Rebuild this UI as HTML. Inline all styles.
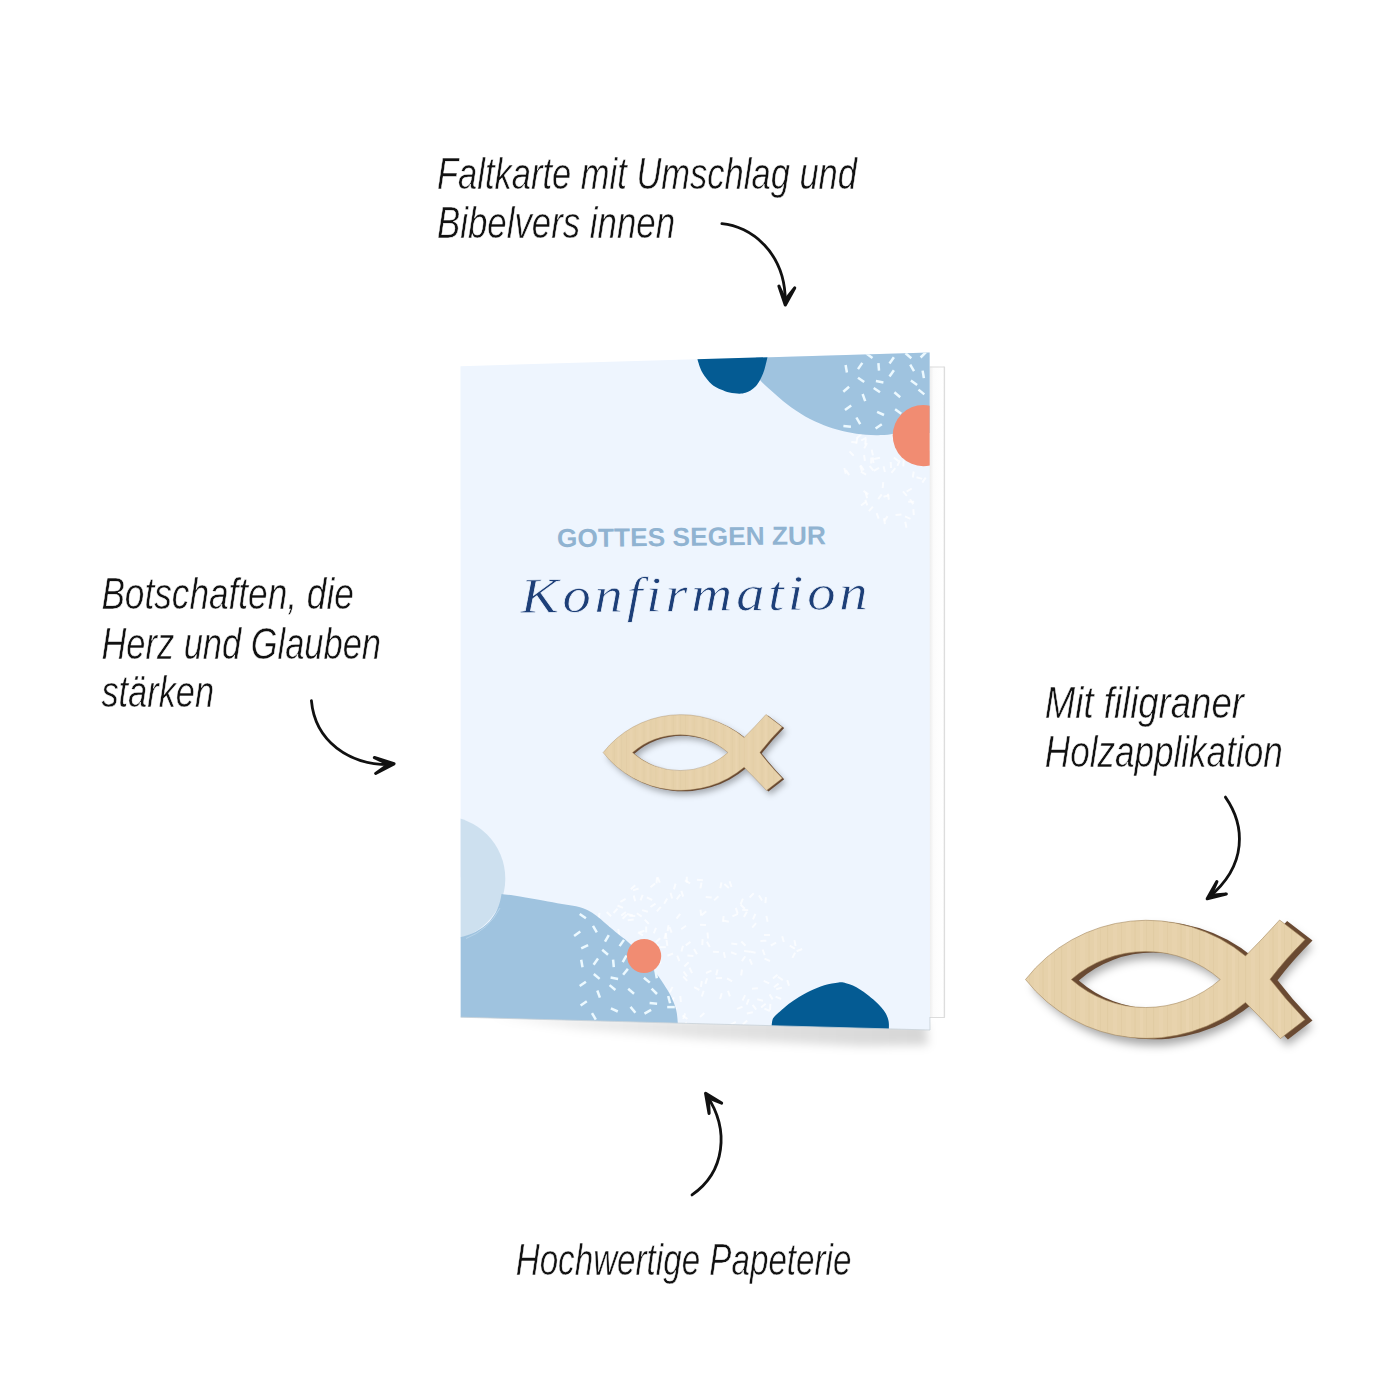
<!DOCTYPE html>
<html lang="de">
<head>
<meta charset="utf-8">
<title>Faltkarte Konfirmation</title>
<style>
html,body{margin:0;padding:0;background:#fff;}
body{width:1400px;height:1400px;overflow:hidden;font-family:"Liberation Sans","DejaVu Sans",sans-serif;}
svg{display:block;}
</style>
</head>
<body>
<svg width="1400" height="1400" viewBox="0 0 1400 1400">
<defs>
  <clipPath id="cardclip"><polygon points="460.5,366.2 929.6,352.5 930,1030 460.7,1017.2"/></clipPath>
  <filter id="blur8" x="-20%" y="-200%" width="140%" height="500%"><feGaussianBlur stdDeviation="5"/></filter>
  <filter id="fshadow" x="-20%" y="-30%" width="140%" height="160%"><feGaussianBlur stdDeviation="5"/></filter>
  <filter id="fshadow2" x="-20%" y="-30%" width="140%" height="160%"><feGaussianBlur stdDeviation="5"/></filter>
  <pattern id="wood" width="46" height="10" patternUnits="userSpaceOnUse">
    <rect width="46" height="10" fill="#e6d1aa"/>
    <rect x="3" width="1.2" height="10" fill="#dcc69c" fill-opacity="0.45"/>
    <rect x="9" width="4" height="10" fill="#ead6b1" fill-opacity="0.5"/>
    <rect x="17" width="1" height="10" fill="#dbc59b" fill-opacity="0.4"/>
    <rect x="22" width="5" height="10" fill="#e9d5af" fill-opacity="0.5"/>
    <rect x="30.5" width="1.2" height="10" fill="#dcc69c" fill-opacity="0.45"/>
    <rect x="36" width="3" height="10" fill="#ebd7b3" fill-opacity="0.5"/>
    <rect x="42" width="1" height="10" fill="#ddc79e" fill-opacity="0.4"/>
  </pattern>
  <linearGradient id="shg" gradientUnits="userSpaceOnUse" x1="480" y1="0" x2="930" y2="0">
    <stop offset="0" stop-color="#000" stop-opacity="0.05"/><stop offset="0.5" stop-color="#000" stop-opacity="0.11"/><stop offset="1" stop-color="#000" stop-opacity="0.16"/>
  </linearGradient>
  <linearGradient id="backg" x1="0" y1="0" x2="1" y2="0">
    <stop offset="0" stop-color="#ebebeb"/><stop offset="0.3" stop-color="#fcfcfc"/><stop offset="0.9" stop-color="#ffffff"/><stop offset="1" stop-color="#dcdcdc"/>
  </linearGradient>
</defs>
<rect width="1400" height="1400" fill="#ffffff"/>

<!-- card shadow -->
<polygon points="490,1016 926,1022 928,1045 860,1046 700,1039 580,1029" fill="url(#shg)" filter="url(#blur8)"/>
<!-- back page -->
<rect x="929" y="366.5" width="15.6" height="651.5" fill="url(#backg)"/>
<path d="M 929,367 H 944.6 V 1017.5 H 930" stroke="#dcdcdc" stroke-width="1" fill="none"/>

<!-- card front -->
<polygon points="460.5,366.2 929.6,352.5 930,1030 460.7,1017.2" fill="#eef5fe"/>
<g clip-path="url(#cardclip)">
  <g stroke-linecap="butt"><line x1="646.8" y1="897.3" x2="652.2" y2="900.0" stroke="#ffffff" stroke-width="2" stroke-opacity="0.7"/><line x1="588.9" y1="957.6" x2="594.4" y2="955.2" stroke="#ffffff" stroke-width="2" stroke-opacity="0.7"/><line x1="588.0" y1="955.1" x2="588.7" y2="949.1" stroke="#ffffff" stroke-width="2" stroke-opacity="0.7"/><line x1="673.9" y1="889.4" x2="675.6" y2="883.6" stroke="#ffffff" stroke-width="2" stroke-opacity="0.7"/><line x1="671.5" y1="1002.8" x2="673.8" y2="997.3" stroke="#ffffff" stroke-width="2" stroke-opacity="0.7"/><line x1="625.9" y1="967.2" x2="626.8" y2="973.1" stroke="#ffffff" stroke-width="2" stroke-opacity="0.7"/><line x1="707.5" y1="932.5" x2="708.0" y2="938.5" stroke="#ffffff" stroke-width="2" stroke-opacity="0.7"/><line x1="640.5" y1="900.4" x2="642.7" y2="894.8" stroke="#ffffff" stroke-width="2" stroke-opacity="0.7"/><line x1="644.3" y1="1000.9" x2="647.6" y2="995.9" stroke="#ffffff" stroke-width="2" stroke-opacity="0.7"/><line x1="706.0" y1="973.0" x2="711.5" y2="970.7" stroke="#ffffff" stroke-width="2" stroke-opacity="0.7"/><line x1="700.4" y1="888.4" x2="701.5" y2="882.5" stroke="#ffffff" stroke-width="2" stroke-opacity="0.7"/><line x1="619.4" y1="978.7" x2="625.3" y2="977.4" stroke="#ffffff" stroke-width="2" stroke-opacity="0.7"/><line x1="644.3" y1="964.3" x2="650.2" y2="963.4" stroke="#ffffff" stroke-width="2" stroke-opacity="0.7"/><line x1="641.5" y1="993.4" x2="646.4" y2="996.9" stroke="#ffffff" stroke-width="2" stroke-opacity="0.7"/><line x1="628.2" y1="961.9" x2="634.1" y2="962.4" stroke="#ffffff" stroke-width="2" stroke-opacity="0.7"/><line x1="773.9" y1="987.3" x2="778.6" y2="983.6" stroke="#ffffff" stroke-width="2" stroke-opacity="0.7"/><line x1="669.8" y1="992.2" x2="672.5" y2="986.9" stroke="#ffffff" stroke-width="2" stroke-opacity="0.7"/><line x1="684.9" y1="880.4" x2="690.1" y2="883.4" stroke="#ffffff" stroke-width="2" stroke-opacity="0.7"/><line x1="749.7" y1="959.2" x2="752.0" y2="964.7" stroke="#ffffff" stroke-width="2" stroke-opacity="0.7"/><line x1="644.3" y1="979.4" x2="650.0" y2="981.2" stroke="#ffffff" stroke-width="2" stroke-opacity="0.7"/><line x1="706.9" y1="941.8" x2="709.8" y2="947.1" stroke="#ffffff" stroke-width="2" stroke-opacity="0.7"/><line x1="789.7" y1="945.6" x2="794.9" y2="948.6" stroke="#ffffff" stroke-width="2" stroke-opacity="0.7"/><line x1="586.3" y1="979.9" x2="591.6" y2="982.6" stroke="#ffffff" stroke-width="2" stroke-opacity="0.7"/><line x1="637.9" y1="932.4" x2="643.0" y2="935.4" stroke="#ffffff" stroke-width="2" stroke-opacity="0.7"/><line x1="578.7" y1="947.8" x2="581.7" y2="942.7" stroke="#ffffff" stroke-width="2" stroke-opacity="0.7"/><line x1="749.6" y1="897.5" x2="753.8" y2="893.3" stroke="#ffffff" stroke-width="2" stroke-opacity="0.7"/><line x1="664.2" y1="1009.6" x2="665.7" y2="1003.8" stroke="#ffffff" stroke-width="2" stroke-opacity="0.7"/><line x1="677.2" y1="955.6" x2="679.4" y2="961.2" stroke="#ffffff" stroke-width="2" stroke-opacity="0.7"/><line x1="761.1" y1="1007.5" x2="765.7" y2="1003.7" stroke="#ffffff" stroke-width="2" stroke-opacity="0.7"/><line x1="669.5" y1="927.0" x2="671.6" y2="932.6" stroke="#ffffff" stroke-width="2" stroke-opacity="0.7"/><line x1="613.5" y1="913.0" x2="617.5" y2="908.6" stroke="#ffffff" stroke-width="2" stroke-opacity="0.7"/><line x1="684.3" y1="966.4" x2="688.7" y2="962.3" stroke="#ffffff" stroke-width="2" stroke-opacity="0.7"/><line x1="659.5" y1="958.0" x2="660.4" y2="963.9" stroke="#ffffff" stroke-width="2" stroke-opacity="0.7"/><line x1="731.0" y1="952.2" x2="736.6" y2="954.4" stroke="#ffffff" stroke-width="2" stroke-opacity="0.7"/><line x1="729.6" y1="881.2" x2="731.5" y2="887.0" stroke="#ffffff" stroke-width="2" stroke-opacity="0.7"/><line x1="752.6" y1="1004.8" x2="756.2" y2="1009.6" stroke="#ffffff" stroke-width="2" stroke-opacity="0.7"/><line x1="664.3" y1="938.7" x2="666.2" y2="933.0" stroke="#ffffff" stroke-width="2" stroke-opacity="0.7"/><line x1="720.3" y1="888.3" x2="721.5" y2="882.4" stroke="#ffffff" stroke-width="2" stroke-opacity="0.7"/><line x1="620.4" y1="901.8" x2="625.6" y2="898.9" stroke="#ffffff" stroke-width="2" stroke-opacity="0.7"/><line x1="657.5" y1="877.1" x2="659.8" y2="882.6" stroke="#ffffff" stroke-width="2" stroke-opacity="0.7"/><line x1="714.1" y1="900.4" x2="718.4" y2="896.2" stroke="#ffffff" stroke-width="2" stroke-opacity="0.7"/><line x1="653.8" y1="933.4" x2="656.0" y2="927.8" stroke="#ffffff" stroke-width="2" stroke-opacity="0.7"/><line x1="681.4" y1="951.5" x2="683.0" y2="945.7" stroke="#ffffff" stroke-width="2" stroke-opacity="0.7"/><line x1="596.3" y1="929.4" x2="600.7" y2="925.4" stroke="#ffffff" stroke-width="2" stroke-opacity="0.7"/><line x1="765.4" y1="903.2" x2="765.9" y2="897.2" stroke="#ffffff" stroke-width="2" stroke-opacity="0.7"/><line x1="792.4" y1="957.9" x2="795.1" y2="952.6" stroke="#ffffff" stroke-width="2" stroke-opacity="0.7"/><line x1="696.9" y1="879.8" x2="702.9" y2="880.3" stroke="#ffffff" stroke-width="2" stroke-opacity="0.7"/><line x1="732.4" y1="916.4" x2="737.9" y2="913.9" stroke="#ffffff" stroke-width="2" stroke-opacity="0.7"/><line x1="610.4" y1="991.5" x2="616.4" y2="992.1" stroke="#ffffff" stroke-width="2" stroke-opacity="0.7"/><line x1="752.2" y1="927.7" x2="756.1" y2="923.2" stroke="#ffffff" stroke-width="2" stroke-opacity="0.7"/><line x1="769.5" y1="994.4" x2="772.7" y2="999.4" stroke="#ffffff" stroke-width="2" stroke-opacity="0.7"/><line x1="742.2" y1="909.8" x2="748.2" y2="910.2" stroke="#ffffff" stroke-width="2" stroke-opacity="0.7"/><line x1="656.5" y1="883.3" x2="657.0" y2="877.4" stroke="#ffffff" stroke-width="2" stroke-opacity="0.7"/><line x1="636.8" y1="913.2" x2="641.7" y2="916.6" stroke="#ffffff" stroke-width="2" stroke-opacity="0.7"/><line x1="794.4" y1="940.1" x2="795.6" y2="946.0" stroke="#ffffff" stroke-width="2" stroke-opacity="0.7"/><line x1="656.9" y1="911.3" x2="660.8" y2="906.8" stroke="#ffffff" stroke-width="2" stroke-opacity="0.7"/><line x1="617.5" y1="905.5" x2="623.0" y2="907.8" stroke="#ffffff" stroke-width="2" stroke-opacity="0.7"/><line x1="683.5" y1="971.5" x2="687.0" y2="976.4" stroke="#ffffff" stroke-width="2" stroke-opacity="0.7"/><line x1="593.7" y1="972.2" x2="595.3" y2="978.0" stroke="#ffffff" stroke-width="2" stroke-opacity="0.7"/><line x1="751.9" y1="988.7" x2="757.9" y2="988.3" stroke="#ffffff" stroke-width="2" stroke-opacity="0.7"/><line x1="613.5" y1="995.9" x2="618.7" y2="992.9" stroke="#ffffff" stroke-width="2" stroke-opacity="0.7"/><line x1="665.5" y1="933.2" x2="666.5" y2="939.2" stroke="#ffffff" stroke-width="2" stroke-opacity="0.7"/><line x1="740.5" y1="904.3" x2="742.9" y2="898.7" stroke="#ffffff" stroke-width="2" stroke-opacity="0.7"/><line x1="758.9" y1="895.4" x2="762.1" y2="900.5" stroke="#ffffff" stroke-width="2" stroke-opacity="0.7"/><line x1="654.4" y1="961.0" x2="656.8" y2="955.5" stroke="#ffffff" stroke-width="2" stroke-opacity="0.7"/><line x1="723.8" y1="952.1" x2="725.0" y2="957.9" stroke="#ffffff" stroke-width="2" stroke-opacity="0.7"/><line x1="673.2" y1="1004.2" x2="676.3" y2="1009.3" stroke="#ffffff" stroke-width="2" stroke-opacity="0.7"/><line x1="621.2" y1="915.6" x2="625.9" y2="912.0" stroke="#ffffff" stroke-width="2" stroke-opacity="0.7"/><line x1="628.1" y1="966.0" x2="632.5" y2="961.9" stroke="#ffffff" stroke-width="2" stroke-opacity="0.7"/><line x1="670.5" y1="892.8" x2="672.2" y2="898.5" stroke="#ffffff" stroke-width="2" stroke-opacity="0.7"/><line x1="653.5" y1="943.9" x2="659.3" y2="945.5" stroke="#ffffff" stroke-width="2" stroke-opacity="0.7"/><line x1="782.2" y1="936.2" x2="783.8" y2="942.0" stroke="#ffffff" stroke-width="2" stroke-opacity="0.7"/><line x1="687.4" y1="955.6" x2="693.4" y2="956.0" stroke="#ffffff" stroke-width="2" stroke-opacity="0.7"/><line x1="577.7" y1="944.5" x2="580.9" y2="939.5" stroke="#ffffff" stroke-width="2" stroke-opacity="0.7"/><line x1="612.4" y1="945.1" x2="616.9" y2="949.0" stroke="#ffffff" stroke-width="2" stroke-opacity="0.7"/><line x1="700.0" y1="924.7" x2="706.0" y2="925.1" stroke="#ffffff" stroke-width="2" stroke-opacity="0.7"/><line x1="701.8" y1="996.5" x2="703.7" y2="990.8" stroke="#ffffff" stroke-width="2" stroke-opacity="0.7"/><line x1="701.6" y1="915.2" x2="706.2" y2="911.3" stroke="#ffffff" stroke-width="2" stroke-opacity="0.7"/><line x1="749.7" y1="951.6" x2="755.6" y2="952.7" stroke="#ffffff" stroke-width="2" stroke-opacity="0.7"/><line x1="746.8" y1="1013.4" x2="752.8" y2="1012.3" stroke="#ffffff" stroke-width="2" stroke-opacity="0.7"/><line x1="712.9" y1="951.7" x2="718.9" y2="951.9" stroke="#ffffff" stroke-width="2" stroke-opacity="0.7"/><line x1="731.3" y1="943.5" x2="737.3" y2="944.2" stroke="#ffffff" stroke-width="2" stroke-opacity="0.7"/><line x1="682.5" y1="1015.5" x2="687.4" y2="1019.0" stroke="#ffffff" stroke-width="2" stroke-opacity="0.7"/><line x1="634.2" y1="957.0" x2="635.2" y2="962.9" stroke="#ffffff" stroke-width="2" stroke-opacity="0.7"/><line x1="602.3" y1="945.2" x2="603.7" y2="939.4" stroke="#ffffff" stroke-width="2" stroke-opacity="0.7"/><line x1="728.0" y1="990.7" x2="729.9" y2="996.4" stroke="#ffffff" stroke-width="2" stroke-opacity="0.7"/><line x1="607.9" y1="982.0" x2="613.2" y2="984.9" stroke="#ffffff" stroke-width="2" stroke-opacity="0.7"/><line x1="607.6" y1="1005.4" x2="608.2" y2="1011.4" stroke="#ffffff" stroke-width="2" stroke-opacity="0.7"/><line x1="622.7" y1="1019.8" x2="628.4" y2="1017.9" stroke="#ffffff" stroke-width="2" stroke-opacity="0.7"/><line x1="685.6" y1="1021.9" x2="688.6" y2="1027.1" stroke="#ffffff" stroke-width="2" stroke-opacity="0.7"/><line x1="609.1" y1="940.6" x2="615.1" y2="940.9" stroke="#ffffff" stroke-width="2" stroke-opacity="0.7"/><line x1="650.5" y1="907.0" x2="655.5" y2="903.7" stroke="#ffffff" stroke-width="2" stroke-opacity="0.7"/><line x1="702.3" y1="945.1" x2="702.6" y2="939.1" stroke="#ffffff" stroke-width="2" stroke-opacity="0.7"/><line x1="648.2" y1="969.5" x2="654.2" y2="969.7" stroke="#ffffff" stroke-width="2" stroke-opacity="0.7"/><line x1="598.7" y1="918.8" x2="599.5" y2="912.9" stroke="#ffffff" stroke-width="2" stroke-opacity="0.7"/><line x1="753.0" y1="919.3" x2="755.4" y2="913.8" stroke="#ffffff" stroke-width="2" stroke-opacity="0.7"/><line x1="670.5" y1="1010.2" x2="673.7" y2="1015.2" stroke="#ffffff" stroke-width="2" stroke-opacity="0.7"/><line x1="633.7" y1="895.5" x2="635.2" y2="901.3" stroke="#ffffff" stroke-width="2" stroke-opacity="0.7"/><line x1="705.4" y1="983.9" x2="707.1" y2="978.2" stroke="#ffffff" stroke-width="2" stroke-opacity="0.7"/><line x1="585.3" y1="979.9" x2="591.1" y2="978.5" stroke="#ffffff" stroke-width="2" stroke-opacity="0.7"/><line x1="720.1" y1="999.1" x2="721.7" y2="993.3" stroke="#ffffff" stroke-width="2" stroke-opacity="0.7"/><line x1="770.8" y1="945.5" x2="776.1" y2="942.6" stroke="#ffffff" stroke-width="2" stroke-opacity="0.7"/><line x1="700.0" y1="1017.0" x2="704.4" y2="1013.0" stroke="#ffffff" stroke-width="2" stroke-opacity="0.7"/><line x1="602.7" y1="957.2" x2="606.8" y2="952.8" stroke="#ffffff" stroke-width="2" stroke-opacity="0.7"/><line x1="644.7" y1="919.6" x2="648.8" y2="923.9" stroke="#ffffff" stroke-width="2" stroke-opacity="0.7"/><line x1="640.1" y1="953.6" x2="643.3" y2="948.5" stroke="#ffffff" stroke-width="2" stroke-opacity="0.7"/><line x1="741.9" y1="961.1" x2="745.3" y2="956.2" stroke="#ffffff" stroke-width="2" stroke-opacity="0.7"/><line x1="683.2" y1="1019.0" x2="685.2" y2="1013.4" stroke="#ffffff" stroke-width="2" stroke-opacity="0.7"/><line x1="760.4" y1="940.9" x2="766.4" y2="940.8" stroke="#ffffff" stroke-width="2" stroke-opacity="0.7"/><line x1="764.0" y1="934.9" x2="770.0" y2="935.0" stroke="#ffffff" stroke-width="2" stroke-opacity="0.7"/><line x1="730.5" y1="1024.8" x2="735.8" y2="1021.9" stroke="#ffffff" stroke-width="2" stroke-opacity="0.7"/><line x1="763.7" y1="980.8" x2="769.2" y2="983.3" stroke="#ffffff" stroke-width="2" stroke-opacity="0.7"/><line x1="667.6" y1="931.1" x2="668.6" y2="925.2" stroke="#ffffff" stroke-width="2" stroke-opacity="0.7"/><line x1="743.9" y1="917.0" x2="746.9" y2="911.7" stroke="#ffffff" stroke-width="2" stroke-opacity="0.7"/><line x1="772.9" y1="978.5" x2="777.5" y2="974.7" stroke="#ffffff" stroke-width="2" stroke-opacity="0.7"/><line x1="627.7" y1="920.3" x2="633.7" y2="919.6" stroke="#ffffff" stroke-width="2" stroke-opacity="0.7"/><line x1="609.0" y1="944.9" x2="613.4" y2="940.8" stroke="#ffffff" stroke-width="2" stroke-opacity="0.7"/><line x1="700.5" y1="909.7" x2="701.1" y2="915.6" stroke="#ffffff" stroke-width="2" stroke-opacity="0.7"/><line x1="646.2" y1="932.5" x2="646.2" y2="926.5" stroke="#ffffff" stroke-width="2" stroke-opacity="0.7"/><line x1="659.8" y1="947.2" x2="665.8" y2="947.2" stroke="#ffffff" stroke-width="2" stroke-opacity="0.7"/><line x1="621.2" y1="954.7" x2="621.3" y2="948.7" stroke="#ffffff" stroke-width="2" stroke-opacity="0.7"/><line x1="632.9" y1="890.4" x2="638.6" y2="888.5" stroke="#ffffff" stroke-width="2" stroke-opacity="0.7"/><line x1="642.1" y1="910.1" x2="647.9" y2="911.7" stroke="#ffffff" stroke-width="2" stroke-opacity="0.7"/><line x1="694.1" y1="987.2" x2="699.4" y2="990.0" stroke="#ffffff" stroke-width="2" stroke-opacity="0.7"/><line x1="736.9" y1="1008.9" x2="742.5" y2="1006.8" stroke="#ffffff" stroke-width="2" stroke-opacity="0.7"/><line x1="648.7" y1="1026.4" x2="651.4" y2="1021.0" stroke="#ffffff" stroke-width="2" stroke-opacity="0.7"/><line x1="741.1" y1="975.5" x2="742.0" y2="969.5" stroke="#ffffff" stroke-width="2" stroke-opacity="0.7"/><line x1="764.4" y1="1008.6" x2="769.9" y2="1011.0" stroke="#ffffff" stroke-width="2" stroke-opacity="0.7"/><line x1="742.5" y1="1000.6" x2="745.1" y2="995.1" stroke="#ffffff" stroke-width="2" stroke-opacity="0.7"/><line x1="694.0" y1="949.1" x2="697.0" y2="954.3" stroke="#ffffff" stroke-width="2" stroke-opacity="0.7"/><line x1="757.2" y1="999.2" x2="763.0" y2="1000.7" stroke="#ffffff" stroke-width="2" stroke-opacity="0.7"/><line x1="777.9" y1="976.7" x2="782.8" y2="980.1" stroke="#ffffff" stroke-width="2" stroke-opacity="0.7"/><line x1="604.6" y1="932.9" x2="606.6" y2="927.3" stroke="#ffffff" stroke-width="2" stroke-opacity="0.7"/><line x1="764.5" y1="958.6" x2="770.0" y2="961.0" stroke="#ffffff" stroke-width="2" stroke-opacity="0.7"/><line x1="716.0" y1="978.2" x2="722.0" y2="978.0" stroke="#ffffff" stroke-width="2" stroke-opacity="0.7"/><line x1="744.1" y1="951.1" x2="750.1" y2="951.8" stroke="#ffffff" stroke-width="2" stroke-opacity="0.7"/><line x1="724.4" y1="883.9" x2="728.8" y2="887.9" stroke="#ffffff" stroke-width="2" stroke-opacity="0.7"/><line x1="630.8" y1="889.2" x2="635.2" y2="885.2" stroke="#ffffff" stroke-width="2" stroke-opacity="0.7"/><line x1="740.6" y1="904.7" x2="744.9" y2="908.8" stroke="#ffffff" stroke-width="2" stroke-opacity="0.7"/><line x1="796.6" y1="951.2" x2="802.2" y2="949.0" stroke="#ffffff" stroke-width="2" stroke-opacity="0.7"/><line x1="683.2" y1="976.3" x2="687.2" y2="980.8" stroke="#ffffff" stroke-width="2" stroke-opacity="0.7"/><line x1="716.2" y1="975.3" x2="717.6" y2="969.5" stroke="#ffffff" stroke-width="2" stroke-opacity="0.7"/><line x1="606.7" y1="912.0" x2="611.1" y2="916.2" stroke="#ffffff" stroke-width="2" stroke-opacity="0.7"/><line x1="644.9" y1="964.2" x2="645.1" y2="958.2" stroke="#ffffff" stroke-width="2" stroke-opacity="0.7"/><line x1="727.0" y1="978.3" x2="732.1" y2="981.4" stroke="#ffffff" stroke-width="2" stroke-opacity="0.7"/><line x1="638.9" y1="953.8" x2="644.9" y2="953.1" stroke="#ffffff" stroke-width="2" stroke-opacity="0.7"/><line x1="681.3" y1="890.9" x2="683.2" y2="896.6" stroke="#ffffff" stroke-width="2" stroke-opacity="0.7"/><line x1="680.3" y1="996.0" x2="680.9" y2="1002.0" stroke="#ffffff" stroke-width="2" stroke-opacity="0.7"/><line x1="676.5" y1="918.7" x2="680.2" y2="913.9" stroke="#ffffff" stroke-width="2" stroke-opacity="0.7"/><line x1="705.7" y1="897.0" x2="711.7" y2="897.5" stroke="#ffffff" stroke-width="2" stroke-opacity="0.7"/><line x1="762.6" y1="949.5" x2="764.7" y2="955.1" stroke="#ffffff" stroke-width="2" stroke-opacity="0.7"/><line x1="735.8" y1="907.9" x2="737.7" y2="913.6" stroke="#ffffff" stroke-width="2" stroke-opacity="0.7"/><line x1="686.8" y1="882.7" x2="686.8" y2="876.7" stroke="#ffffff" stroke-width="2" stroke-opacity="0.7"/><line x1="685.7" y1="945.4" x2="690.5" y2="941.9" stroke="#ffffff" stroke-width="2" stroke-opacity="0.7"/><line x1="604.8" y1="929.2" x2="609.9" y2="926.0" stroke="#ffffff" stroke-width="2" stroke-opacity="0.7"/><line x1="746.6" y1="1004.7" x2="748.8" y2="999.1" stroke="#ffffff" stroke-width="2" stroke-opacity="0.7"/><line x1="787.2" y1="980.1" x2="789.0" y2="985.8" stroke="#ffffff" stroke-width="2" stroke-opacity="0.7"/><line x1="638.8" y1="932.8" x2="644.5" y2="930.8" stroke="#ffffff" stroke-width="2" stroke-opacity="0.7"/><line x1="655.7" y1="942.2" x2="660.2" y2="938.3" stroke="#ffffff" stroke-width="2" stroke-opacity="0.7"/><line x1="766.4" y1="915.9" x2="767.6" y2="921.8" stroke="#ffffff" stroke-width="2" stroke-opacity="0.7"/><line x1="629.3" y1="915.8" x2="635.3" y2="916.0" stroke="#ffffff" stroke-width="2" stroke-opacity="0.7"/><line x1="618.3" y1="929.0" x2="619.1" y2="935.0" stroke="#ffffff" stroke-width="2" stroke-opacity="0.7"/><line x1="775.6" y1="996.6" x2="781.1" y2="999.0" stroke="#ffffff" stroke-width="2" stroke-opacity="0.7"/><line x1="700.9" y1="986.9" x2="701.8" y2="981.0" stroke="#ffffff" stroke-width="2" stroke-opacity="0.7"/><line x1="741.3" y1="941.5" x2="745.5" y2="945.8" stroke="#ffffff" stroke-width="2" stroke-opacity="0.7"/><line x1="722.8" y1="921.9" x2="723.7" y2="916.0" stroke="#ffffff" stroke-width="2" stroke-opacity="0.7"/><line x1="681.2" y1="929.3" x2="686.0" y2="925.8" stroke="#ffffff" stroke-width="2" stroke-opacity="0.7"/><line x1="742.8" y1="1024.5" x2="747.2" y2="1020.4" stroke="#ffffff" stroke-width="2" stroke-opacity="0.7"/><line x1="722.9" y1="920.6" x2="728.8" y2="921.7" stroke="#ffffff" stroke-width="2" stroke-opacity="0.7"/><line x1="664.2" y1="903.7" x2="667.2" y2="898.5" stroke="#ffffff" stroke-width="2" stroke-opacity="0.7"/><line x1="619.8" y1="1011.9" x2="625.8" y2="1011.9" stroke="#ffffff" stroke-width="2" stroke-opacity="0.7"/><line x1="625.6" y1="1008.9" x2="625.6" y2="1014.9" stroke="#ffffff" stroke-width="2" stroke-opacity="0.7"/><line x1="676.8" y1="899.4" x2="680.2" y2="894.5" stroke="#ffffff" stroke-width="2" stroke-opacity="0.7"/><line x1="595.0" y1="930.2" x2="596.7" y2="924.4" stroke="#ffffff" stroke-width="2" stroke-opacity="0.7"/><line x1="627.1" y1="914.1" x2="632.9" y2="915.4" stroke="#ffffff" stroke-width="2" stroke-opacity="0.7"/><line x1="776.2" y1="989.3" x2="782.0" y2="987.6" stroke="#ffffff" stroke-width="2" stroke-opacity="0.7"/><line x1="667.4" y1="955.8" x2="673.0" y2="953.5" stroke="#ffffff" stroke-width="2" stroke-opacity="0.7"/><line x1="650.5" y1="887.2" x2="655.1" y2="883.4" stroke="#ffffff" stroke-width="2" stroke-opacity="0.7"/><line x1="689.5" y1="967.7" x2="692.0" y2="973.2" stroke="#ffffff" stroke-width="2" stroke-opacity="0.7"/><line x1="622.6" y1="918.8" x2="626.8" y2="914.5" stroke="#ffffff" stroke-width="2" stroke-opacity="0.7"/><line x1="666.5" y1="939.9" x2="667.4" y2="945.8" stroke="#ffffff" stroke-width="2" stroke-opacity="0.7"/><line x1="770.0" y1="1009.9" x2="770.4" y2="1003.9" stroke="#ffffff" stroke-width="2" stroke-opacity="0.7"/><line x1="916.5" y1="477.3" x2="922.2" y2="478.9" stroke="#ffffff" stroke-width="2" stroke-opacity="0.7"/><line x1="844.3" y1="467.9" x2="845.7" y2="473.8" stroke="#ffffff" stroke-width="2" stroke-opacity="0.7"/><line x1="913.3" y1="509.1" x2="913.8" y2="515.1" stroke="#ffffff" stroke-width="2" stroke-opacity="0.7"/><line x1="864.2" y1="448.4" x2="867.0" y2="443.1" stroke="#ffffff" stroke-width="2" stroke-opacity="0.7"/><line x1="887.8" y1="493.8" x2="888.9" y2="499.7" stroke="#ffffff" stroke-width="2" stroke-opacity="0.7"/><line x1="902.9" y1="491.4" x2="906.9" y2="495.8" stroke="#ffffff" stroke-width="2" stroke-opacity="0.7"/><line x1="882.6" y1="488.1" x2="883.3" y2="482.1" stroke="#ffffff" stroke-width="2" stroke-opacity="0.7"/><line x1="909.2" y1="453.8" x2="910.7" y2="459.6" stroke="#ffffff" stroke-width="2" stroke-opacity="0.7"/><line x1="897.4" y1="465.8" x2="899.8" y2="460.3" stroke="#ffffff" stroke-width="2" stroke-opacity="0.7"/><line x1="863.5" y1="490.9" x2="868.3" y2="494.4" stroke="#ffffff" stroke-width="2" stroke-opacity="0.7"/><line x1="851.3" y1="442.0" x2="857.3" y2="442.5" stroke="#ffffff" stroke-width="2" stroke-opacity="0.7"/><line x1="891.4" y1="472.8" x2="895.3" y2="468.2" stroke="#ffffff" stroke-width="2" stroke-opacity="0.7"/><line x1="892.5" y1="438.7" x2="897.3" y2="435.2" stroke="#ffffff" stroke-width="2" stroke-opacity="0.7"/><line x1="895.5" y1="514.9" x2="901.5" y2="514.4" stroke="#ffffff" stroke-width="2" stroke-opacity="0.7"/><line x1="864.1" y1="455.0" x2="864.9" y2="461.0" stroke="#ffffff" stroke-width="2" stroke-opacity="0.7"/><line x1="903.3" y1="466.4" x2="903.7" y2="460.4" stroke="#ffffff" stroke-width="2" stroke-opacity="0.7"/><line x1="883.5" y1="496.8" x2="889.3" y2="495.3" stroke="#ffffff" stroke-width="2" stroke-opacity="0.7"/><line x1="865.7" y1="492.5" x2="867.1" y2="498.3" stroke="#ffffff" stroke-width="2" stroke-opacity="0.7"/><line x1="861.2" y1="440.5" x2="866.4" y2="437.6" stroke="#ffffff" stroke-width="2" stroke-opacity="0.7"/><line x1="878.2" y1="499.2" x2="881.7" y2="494.3" stroke="#ffffff" stroke-width="2" stroke-opacity="0.7"/><line x1="908.2" y1="501.7" x2="914.2" y2="501.8" stroke="#ffffff" stroke-width="2" stroke-opacity="0.7"/><line x1="868.9" y1="511.2" x2="872.9" y2="506.7" stroke="#ffffff" stroke-width="2" stroke-opacity="0.7"/><line x1="861.0" y1="505.5" x2="865.8" y2="501.9" stroke="#ffffff" stroke-width="2" stroke-opacity="0.7"/><line x1="922.3" y1="482.6" x2="925.7" y2="477.6" stroke="#ffffff" stroke-width="2" stroke-opacity="0.7"/><line x1="860.9" y1="471.6" x2="866.1" y2="474.6" stroke="#ffffff" stroke-width="2" stroke-opacity="0.7"/><line x1="920.9" y1="450.0" x2="926.6" y2="448.0" stroke="#ffffff" stroke-width="2" stroke-opacity="0.7"/><line x1="856.2" y1="443.6" x2="857.3" y2="437.7" stroke="#ffffff" stroke-width="2" stroke-opacity="0.7"/><line x1="876.6" y1="513.1" x2="878.7" y2="518.7" stroke="#ffffff" stroke-width="2" stroke-opacity="0.7"/><line x1="905.2" y1="521.8" x2="906.5" y2="527.7" stroke="#ffffff" stroke-width="2" stroke-opacity="0.7"/><line x1="871.7" y1="449.6" x2="872.9" y2="455.4" stroke="#ffffff" stroke-width="2" stroke-opacity="0.7"/><line x1="904.3" y1="437.4" x2="909.6" y2="440.3" stroke="#ffffff" stroke-width="2" stroke-opacity="0.7"/><line x1="873.8" y1="470.8" x2="879.0" y2="467.8" stroke="#ffffff" stroke-width="2" stroke-opacity="0.7"/><line x1="856.7" y1="438.2" x2="861.4" y2="434.3" stroke="#ffffff" stroke-width="2" stroke-opacity="0.7"/><line x1="860.6" y1="465.2" x2="863.8" y2="470.3" stroke="#ffffff" stroke-width="2" stroke-opacity="0.7"/><line x1="912.8" y1="477.5" x2="913.7" y2="471.5" stroke="#ffffff" stroke-width="2" stroke-opacity="0.7"/><line x1="883.5" y1="466.3" x2="885.0" y2="472.1" stroke="#ffffff" stroke-width="2" stroke-opacity="0.7"/><line x1="860.1" y1="465.6" x2="862.0" y2="471.3" stroke="#ffffff" stroke-width="2" stroke-opacity="0.7"/><line x1="845.8" y1="470.1" x2="849.2" y2="475.1" stroke="#ffffff" stroke-width="2" stroke-opacity="0.7"/><line x1="908.3" y1="442.6" x2="909.0" y2="436.6" stroke="#ffffff" stroke-width="2" stroke-opacity="0.7"/><line x1="865.4" y1="499.7" x2="867.3" y2="505.4" stroke="#ffffff" stroke-width="2" stroke-opacity="0.7"/><line x1="872.7" y1="457.3" x2="873.5" y2="463.2" stroke="#ffffff" stroke-width="2" stroke-opacity="0.7"/><line x1="893.9" y1="457.4" x2="898.5" y2="461.2" stroke="#ffffff" stroke-width="2" stroke-opacity="0.7"/><line x1="871.2" y1="463.5" x2="871.3" y2="457.5" stroke="#ffffff" stroke-width="2" stroke-opacity="0.7"/><line x1="905.0" y1="516.3" x2="910.5" y2="518.8" stroke="#ffffff" stroke-width="2" stroke-opacity="0.7"/><line x1="921.3" y1="440.4" x2="925.3" y2="435.9" stroke="#ffffff" stroke-width="2" stroke-opacity="0.7"/><line x1="884.0" y1="518.2" x2="884.9" y2="524.1" stroke="#ffffff" stroke-width="2" stroke-opacity="0.7"/><line x1="874.2" y1="459.0" x2="880.0" y2="457.7" stroke="#ffffff" stroke-width="2" stroke-opacity="0.7"/><line x1="884.3" y1="521.1" x2="887.6" y2="516.1" stroke="#ffffff" stroke-width="2" stroke-opacity="0.7"/><line x1="910.0" y1="499.2" x2="913.2" y2="504.3" stroke="#ffffff" stroke-width="2" stroke-opacity="0.7"/><line x1="906.6" y1="491.6" x2="911.7" y2="488.5" stroke="#ffffff" stroke-width="2" stroke-opacity="0.7"/><line x1="869.6" y1="465.9" x2="873.4" y2="470.5" stroke="#ffffff" stroke-width="2" stroke-opacity="0.7"/><line x1="849.5" y1="451.4" x2="853.7" y2="455.7" stroke="#ffffff" stroke-width="2" stroke-opacity="0.7"/><line x1="865.2" y1="444.7" x2="865.8" y2="438.8" stroke="#ffffff" stroke-width="2" stroke-opacity="0.7"/><line x1="890.7" y1="462.0" x2="891.1" y2="468.0" stroke="#ffffff" stroke-width="2" stroke-opacity="0.7"/></g>
  <!-- top-right mid blue blob -->
  <path d="M 755,345 L 757.0,372.0 C 757.5,373.3 757.0,376.3 760.0,380.0 C 763.0,383.7 769.8,389.4 775.0,394.0 C 780.2,398.6 785.6,403.3 791.4,407.5 C 797.2,411.7 803.8,415.8 810.0,419.0 C 816.2,422.2 822.4,424.8 828.6,427.0 C 834.8,429.2 840.9,430.7 847.1,432.0 C 853.3,433.3 859.5,434.3 865.7,434.8 C 871.9,435.3 879.4,435.2 884.3,435.0 C 889.2,434.8 893.2,433.8 895.0,433.5 L 935,433 L 935,345 Z" fill="#9fc3df"/>
  <!-- top dark blue blob -->
  <path d="M 696.5,350 L 697.6,360.0 C 698.2,361.8 699.8,367.6 701.5,371.0 C 703.2,374.4 705.9,377.8 707.9,380.3 C 709.9,382.8 711.3,384.2 713.5,385.8 C 715.7,387.4 718.2,388.5 720.9,389.6 C 723.6,390.7 726.4,391.9 729.5,392.6 C 732.6,393.3 736.7,393.7 739.4,393.7 C 742.1,393.7 743.6,393.3 745.5,392.8 C 747.4,392.3 748.9,391.6 750.6,390.5 C 752.3,389.4 754.2,387.9 755.8,386.2 C 757.3,384.5 758.5,383.0 759.9,380.3 C 761.3,377.6 763.1,373.7 764.3,370.0 C 765.5,366.3 766.8,360.0 767.3,358.0 L 768.5,350 Z" fill="#045b93"/>
  <!-- bottom-left light circle -->
  <circle cx="443" cy="878.5" r="62.3" fill="#cde0ef"/>
  <!-- bottom-left mid blue blob -->
  <path d="M 455,938 C 468,936.5 480,931 489.5,921.5 C 496,914 500,905 501.5,894 L 501.5,894.0 C 504.6,894.4 513.1,895.4 520.0,896.5 C 526.9,897.6 535.9,899.2 542.9,900.5 C 549.9,901.8 555.8,902.9 562.0,904.0 C 568.2,905.1 575.3,906.0 580.0,907.2 C 584.7,908.5 586.9,909.8 590.0,911.5 C 593.1,913.2 595.6,915.2 598.6,917.5 C 601.6,919.8 604.9,922.9 608.0,925.5 C 611.1,928.1 613.8,930.5 617.1,933.3 C 620.4,936.0 623.9,938.2 628.0,942.0 C 632.1,945.8 637.6,951.2 642.0,956.0 C 646.4,960.8 651.1,966.8 654.3,970.8 C 657.5,974.8 658.8,976.8 661.0,980.0 C 663.2,983.2 665.5,986.9 667.3,989.8 C 669.0,992.7 670.3,995.0 671.5,997.5 C 672.7,1000.0 673.8,1002.4 674.7,1005.0 C 675.6,1007.6 676.2,1009.7 676.8,1013.0 C 677.3,1016.3 677.8,1023.0 678.0,1025.0 L 455,1025 Z" fill="#9fc3df"/>
  <path d="M 466,938.5 A 64 64 0 0 0 500,908" fill="none" stroke="#b7d4ea" stroke-width="1"/>
  <!-- bottom-right dark blue blob -->
  <path d="M 771.5,1028 L 771.8,1024.0 C 771.9,1023.2 772.1,1020.8 772.6,1019.5 C 773.1,1018.2 773.8,1017.3 775.0,1016.0 C 776.2,1014.7 777.7,1013.5 780.0,1011.5 C 782.3,1009.5 785.4,1006.4 788.6,1004.0 C 791.8,1001.6 795.4,999.2 799.0,997.0 C 802.6,994.8 805.8,993.0 810.0,991.0 C 814.2,989.0 819.5,986.7 824.3,985.3 C 829.1,983.9 835.0,982.9 838.6,982.5 C 842.2,982.1 843.6,982.7 846.0,983.2 C 848.4,983.7 850.6,984.6 852.9,985.6 C 855.2,986.6 857.6,988.0 860.0,989.5 C 862.4,991.0 864.6,992.6 867.1,994.5 C 869.6,996.4 872.6,998.8 875.0,1001.0 C 877.4,1003.2 879.6,1005.4 881.4,1007.5 C 883.2,1009.6 884.7,1011.5 885.8,1013.5 C 886.9,1015.5 887.7,1017.8 888.2,1019.5 C 888.7,1021.2 888.8,1022.1 888.9,1024.0 C 889.0,1025.9 888.8,1029.8 888.8,1031.0 Z" fill="#045b93"/>
  <!-- sprinkles -->
  <g stroke-linecap="butt">
  <line x1="845.6" y1="365.0" x2="846.9" y2="372.5" stroke="#ecf9ff" stroke-width="2.5" stroke-opacity="1"/><line x1="858.0" y1="369.1" x2="862.3" y2="362.9" stroke="#ecf9ff" stroke-width="2.5" stroke-opacity="1"/><line x1="878.4" y1="363.1" x2="879.0" y2="370.7" stroke="#ecf9ff" stroke-width="2.5" stroke-opacity="1"/><line x1="889.5" y1="363.5" x2="893.9" y2="357.3" stroke="#ecf9ff" stroke-width="2.5" stroke-opacity="1"/><line x1="910.2" y1="364.6" x2="914.0" y2="371.1" stroke="#ecf9ff" stroke-width="2.5" stroke-opacity="1"/><line x1="922.6" y1="370.6" x2="923.9" y2="378.1" stroke="#ecf9ff" stroke-width="2.5" stroke-opacity="1"/><line x1="858.0" y1="377.7" x2="864.2" y2="382.1" stroke="#ecf9ff" stroke-width="2.5" stroke-opacity="1"/><line x1="875.9" y1="381.1" x2="883.4" y2="382.4" stroke="#ecf9ff" stroke-width="2.5" stroke-opacity="1"/><line x1="889.5" y1="376.5" x2="893.9" y2="370.3" stroke="#ecf9ff" stroke-width="2.5" stroke-opacity="1"/><line x1="910.9" y1="380.5" x2="917.1" y2="384.9" stroke="#ecf9ff" stroke-width="2.5" stroke-opacity="1"/><line x1="843.3" y1="391.7" x2="849.1" y2="386.8" stroke="#ecf9ff" stroke-width="2.5" stroke-opacity="1"/><line x1="873.7" y1="388.0" x2="880.0" y2="392.3" stroke="#ecf9ff" stroke-width="2.5" stroke-opacity="1"/><line x1="894.4" y1="392.3" x2="900.2" y2="397.2" stroke="#ecf9ff" stroke-width="2.5" stroke-opacity="1"/><line x1="918.5" y1="389.6" x2="924.3" y2="394.4" stroke="#ecf9ff" stroke-width="2.5" stroke-opacity="1"/><line x1="862.6" y1="394.0" x2="865.2" y2="401.1" stroke="#ecf9ff" stroke-width="2.5" stroke-opacity="1"/><line x1="845.0" y1="410.0" x2="851.2" y2="405.6" stroke="#ecf9ff" stroke-width="2.5" stroke-opacity="1"/><line x1="877.1" y1="411.8" x2="884.0" y2="415.0" stroke="#ecf9ff" stroke-width="2.5" stroke-opacity="1"/><line x1="895.1" y1="409.3" x2="901.3" y2="413.7" stroke="#ecf9ff" stroke-width="2.5" stroke-opacity="1"/><line x1="856.4" y1="417.5" x2="860.2" y2="424.1" stroke="#ecf9ff" stroke-width="2.5" stroke-opacity="1"/><line x1="875.6" y1="428.5" x2="881.8" y2="424.2" stroke="#ecf9ff" stroke-width="2.5" stroke-opacity="1"/><line x1="843.4" y1="426.0" x2="850.9" y2="426.7" stroke="#ecf9ff" stroke-width="2.5" stroke-opacity="1"/><line x1="866.3" y1="353.6" x2="872.5" y2="358.0" stroke="#ecf9ff" stroke-width="2.5" stroke-opacity="1"/><line x1="905.5" y1="353.3" x2="911.3" y2="358.2" stroke="#ecf9ff" stroke-width="2.5" stroke-opacity="1"/><line x1="920.6" y1="357.5" x2="926.0" y2="352.2" stroke="#ecf9ff" stroke-width="2.5" stroke-opacity="1"/><line x1="579.7" y1="913.9" x2="585.9" y2="918.3" stroke="#ecf9ff" stroke-width="2.5" stroke-opacity="1"/><line x1="593.0" y1="925.8" x2="596.8" y2="932.4" stroke="#ecf9ff" stroke-width="2.5" stroke-opacity="1"/><line x1="574.1" y1="935.9" x2="580.3" y2="931.5" stroke="#ecf9ff" stroke-width="2.5" stroke-opacity="1"/><line x1="605.0" y1="941.6" x2="608.8" y2="935.1" stroke="#ecf9ff" stroke-width="2.5" stroke-opacity="1"/><line x1="619.6" y1="946.1" x2="624.0" y2="939.9" stroke="#ecf9ff" stroke-width="2.5" stroke-opacity="1"/><line x1="581.2" y1="948.3" x2="588.1" y2="945.1" stroke="#ecf9ff" stroke-width="2.5" stroke-opacity="1"/><line x1="602.2" y1="949.8" x2="608.0" y2="954.7" stroke="#ecf9ff" stroke-width="2.5" stroke-opacity="1"/><line x1="581.2" y1="959.7" x2="582.5" y2="967.2" stroke="#ecf9ff" stroke-width="2.5" stroke-opacity="1"/><line x1="593.6" y1="964.7" x2="598.0" y2="958.5" stroke="#ecf9ff" stroke-width="2.5" stroke-opacity="1"/><line x1="613.1" y1="959.6" x2="613.8" y2="967.2" stroke="#ecf9ff" stroke-width="2.5" stroke-opacity="1"/><line x1="622.7" y1="962.1" x2="626.5" y2="955.5" stroke="#ecf9ff" stroke-width="2.5" stroke-opacity="1"/><line x1="593.8" y1="974.0" x2="599.6" y2="978.9" stroke="#ecf9ff" stroke-width="2.5" stroke-opacity="1"/><line x1="610.6" y1="977.6" x2="618.1" y2="978.9" stroke="#ecf9ff" stroke-width="2.5" stroke-opacity="1"/><line x1="623.1" y1="974.7" x2="627.9" y2="968.9" stroke="#ecf9ff" stroke-width="2.5" stroke-opacity="1"/><line x1="579.7" y1="986.0" x2="585.9" y2="981.7" stroke="#ecf9ff" stroke-width="2.5" stroke-opacity="1"/><line x1="609.6" y1="985.1" x2="615.4" y2="990.0" stroke="#ecf9ff" stroke-width="2.5" stroke-opacity="1"/><line x1="628.2" y1="988.8" x2="634.0" y2="993.7" stroke="#ecf9ff" stroke-width="2.5" stroke-opacity="1"/><line x1="597.3" y1="990.5" x2="599.9" y2="997.6" stroke="#ecf9ff" stroke-width="2.5" stroke-opacity="1"/><line x1="643.9" y1="977.7" x2="649.8" y2="982.6" stroke="#ecf9ff" stroke-width="2.5" stroke-opacity="1"/><line x1="651.6" y1="988.6" x2="657.0" y2="994.0" stroke="#ecf9ff" stroke-width="2.5" stroke-opacity="1"/><line x1="655.5" y1="970.8" x2="656.8" y2="978.3" stroke="#ecf9ff" stroke-width="2.5" stroke-opacity="1"/><line x1="580.6" y1="1005.5" x2="586.8" y2="1001.2" stroke="#ecf9ff" stroke-width="2.5" stroke-opacity="1"/><line x1="610.9" y1="1008.3" x2="617.8" y2="1011.5" stroke="#ecf9ff" stroke-width="2.5" stroke-opacity="1"/><line x1="630.5" y1="1006.9" x2="635.4" y2="1012.8" stroke="#ecf9ff" stroke-width="2.5" stroke-opacity="1"/><line x1="644.5" y1="1013.6" x2="651.1" y2="1009.8" stroke="#ecf9ff" stroke-width="2.5" stroke-opacity="1"/><line x1="649.6" y1="1003.0" x2="657.1" y2="1003.7" stroke="#ecf9ff" stroke-width="2.5" stroke-opacity="1"/><line x1="668.2" y1="996.0" x2="670.1" y2="1003.3" stroke="#ecf9ff" stroke-width="2.5" stroke-opacity="1"/><line x1="667.2" y1="1007.1" x2="674.8" y2="1007.1" stroke="#ecf9ff" stroke-width="2.5" stroke-opacity="1"/><line x1="592.0" y1="1013.1" x2="595.8" y2="1019.6" stroke="#ecf9ff" stroke-width="2.5" stroke-opacity="1"/>
  </g>
  <!-- coral circles -->
  <circle cx="923.3" cy="435.6" r="30.6" fill="#f18c72"/>
  <circle cx="644.1" cy="956" r="17.1" fill="#f18c72"/>
  <!-- card text -->
  <g transform="rotate(-0.6 691 536)">
    <text x="557" y="545.7" textLength="269" lengthAdjust="spacingAndGlyphs" font-family="'Liberation Sans', 'DejaVu Sans', sans-serif" font-weight="bold" font-size="26" fill="#90b3d1">GOTTES SEGEN ZUR</text>
    <g transform="translate(520 611) scale(1.14 1)"><text x="0" y="0" textLength="304.4" lengthAdjust="spacing" font-family="'Liberation Serif', 'DejaVu Serif', serif" font-style="italic" font-size="50" stroke="#eef5fe" stroke-width="0.7" fill="#1d3f78">Konfirmation</text></g>
  </g>
  <!-- small fish -->
  <g transform="translate(603.1,752.6) scale(0.641) translate(-1025.5,-979.5)">
  <path d="M 1025.5,979.5 A 154 154 0 0 1 1245.5,956 Q 1263,938.5 1279.6,920 L 1305,939.6 Q 1286,958.5 1270,979.2 Q 1286,1000 1305,1019.6 L 1280.4,1038.6 Q 1263,1020 1245.5,1002.4 A 154 154 0 0 1 1025.5,979.5 Z M 1071.3,979.5 A 113 113 0 0 0 1220.3,979.5 A 113 113 0 0 0 1071.3,979.5 Z" fill="#000" fill-opacity="0.3" fill-rule="evenodd" transform="translate(6,7)" filter="url(#fshadow)"/>
  <path d="M 1025.5,979.5 A 154 154 0 0 1 1245.5,956 Q 1263,938.5 1279.6,920 L 1305,939.6 Q 1286,958.5 1270,979.2 Q 1286,1000 1305,1019.6 L 1280.4,1038.6 Q 1263,1020 1245.5,1002.4 A 154 154 0 0 1 1025.5,979.5 Z M 1071.3,979.5 A 113 113 0 0 0 1220.3,979.5 A 113 113 0 0 0 1071.3,979.5 Z" fill="#6a4a32" fill-rule="evenodd" transform="translate(3,1.6)"/>
  <path d="M 1025.5,979.5 A 154 154 0 0 1 1245.5,956 Q 1263,938.5 1279.6,920 L 1305,939.6 Q 1286,958.5 1270,979.2 Q 1286,1000 1305,1019.6 L 1280.4,1038.6 Q 1263,1020 1245.5,1002.4 A 154 154 0 0 1 1025.5,979.5 Z M 1071.3,979.5 A 113 113 0 0 0 1220.3,979.5 A 113 113 0 0 0 1071.3,979.5 Z" fill="url(#wood)" fill-rule="evenodd" stroke="#a5875d" stroke-width="0.9" stroke-opacity="0.65" stroke-linejoin="miter"/>
</g>
</g>

<path d="M 460.7,1017.2 L 930,1030 L 929.9,1017" fill="none" stroke="#c9d1d8" stroke-width="0.9" stroke-opacity="0.9"/>

<!-- big fish -->
<g transform="translate(1025.5,979.5) scale(1.0) translate(-1025.5,-979.5)">
  <path d="M 1025.5,979.5 A 154 154 0 0 1 1245.5,956 Q 1263,938.5 1279.6,920 L 1305,939.6 Q 1286,958.5 1270,979.2 Q 1286,1000 1305,1019.6 L 1280.4,1038.6 Q 1263,1020 1245.5,1002.4 A 154 154 0 0 1 1025.5,979.5 Z M 1071.3,979.5 A 113 113 0 0 0 1220.3,979.5 A 113 113 0 0 0 1071.3,979.5 Z" fill="#000" fill-opacity="0.35" fill-rule="evenodd" transform="translate(7,7)" filter="url(#fshadow)"/>
  <path d="M 1025.5,979.5 A 154 154 0 0 1 1245.5,956 Q 1263,938.5 1279.6,920 L 1305,939.6 Q 1286,958.5 1270,979.2 Q 1286,1000 1305,1019.6 L 1280.4,1038.6 Q 1263,1020 1245.5,1002.4 A 154 154 0 0 1 1025.5,979.5 Z M 1071.3,979.5 A 113 113 0 0 0 1220.3,979.5 A 113 113 0 0 0 1071.3,979.5 Z" fill="#6a4a32" fill-rule="evenodd" transform="translate(7.5,1)"/>
  <path d="M 1025.5,979.5 A 154 154 0 0 1 1245.5,956 Q 1263,938.5 1279.6,920 L 1305,939.6 Q 1286,958.5 1270,979.2 Q 1286,1000 1305,1019.6 L 1280.4,1038.6 Q 1263,1020 1245.5,1002.4 A 154 154 0 0 1 1025.5,979.5 Z M 1071.3,979.5 A 113 113 0 0 0 1220.3,979.5 A 113 113 0 0 0 1071.3,979.5 Z" fill="url(#wood)" fill-rule="evenodd" stroke="#a5875d" stroke-width="0.9" stroke-opacity="0.65" stroke-linejoin="miter"/>
</g>

<!-- arrows -->
<g fill="none" stroke="#111111" stroke-width="2.8" stroke-linecap="round" stroke-linejoin="round">
  <path d="M 721.9,223.6 C 750,226 786,252 785.3,303"/>
  <path d="M 311.4,700.6 C 315,741 349,765.5 391,764.5"/>
  <path d="M 1225.4,797.1 C 1245,825 1248,865 1208.5,897.5"/>
  <path d="M 692,1194.9 C 725,1172 730,1130 706.5,1095"/>
</g>
<g fill="#111111" stroke="#111111" stroke-width="3.1" stroke-linecap="round" stroke-linejoin="round">
  <path d="M 778.9,286.1 L 785.3,305 L 794.7,287.9 L 785.2,300 Z"/>
  <path d="M 374.4,757.6 L 394,763.8 L 375.7,773.4 L 388.5,764.3 Z"/>
  <path d="M 1216.9,881.6 L 1207.2,898.8 L 1226.3,894 L 1210.9,895.2 Z"/>
  <path d="M 721.6,1103.1 L 705.6,1093.3 L 709.1,1113.4 L 708.4,1097.8 Z"/>
</g>

<!-- annotations -->
<g opacity="0.995">
<text x="437" y="189" textLength="420" lengthAdjust="spacingAndGlyphs" font-family="'Liberation Sans', 'DejaVu Sans', sans-serif" font-style="italic" font-size="44" stroke="#ffffff" stroke-width="0.55" fill="#111111">Faltkarte mit Umschlag und</text>
<text x="437" y="238.4" textLength="238" lengthAdjust="spacingAndGlyphs" font-family="'Liberation Sans', 'DejaVu Sans', sans-serif" font-style="italic" font-size="44" stroke="#ffffff" stroke-width="0.55" fill="#111111">Bibelvers innen</text>
<text x="101.4" y="609.3" textLength="252.4" lengthAdjust="spacingAndGlyphs" font-family="'Liberation Sans', 'DejaVu Sans', sans-serif" font-style="italic" font-size="44" stroke="#ffffff" stroke-width="0.55" fill="#111111">Botschaften, die</text>
<text x="101.4" y="659" textLength="279.6" lengthAdjust="spacingAndGlyphs" font-family="'Liberation Sans', 'DejaVu Sans', sans-serif" font-style="italic" font-size="44" stroke="#ffffff" stroke-width="0.55" fill="#111111">Herz und Glauben</text>
<text x="101.4" y="707.3" textLength="112.6" lengthAdjust="spacingAndGlyphs" font-family="'Liberation Sans', 'DejaVu Sans', sans-serif" font-style="italic" font-size="44" stroke="#ffffff" stroke-width="0.55" fill="#111111">stärken</text>
<text x="1044.8" y="718.1" textLength="199.2" lengthAdjust="spacingAndGlyphs" font-family="'Liberation Sans', 'DejaVu Sans', sans-serif" font-style="italic" font-size="44" stroke="#ffffff" stroke-width="0.55" fill="#111111">Mit filigraner</text>
<text x="1044.8" y="767.3" textLength="237.9" lengthAdjust="spacingAndGlyphs" font-family="'Liberation Sans', 'DejaVu Sans', sans-serif" font-style="italic" font-size="44" stroke="#ffffff" stroke-width="0.55" fill="#111111">Holzapplikation</text>
<text x="515.7" y="1275.1" textLength="335.7" lengthAdjust="spacingAndGlyphs" font-family="'Liberation Sans', 'DejaVu Sans', sans-serif" font-style="italic" font-size="44" stroke="#ffffff" stroke-width="0.55" fill="#111111">Hochwertige Papeterie</text>
</g>
</svg>
</body>
</html>
